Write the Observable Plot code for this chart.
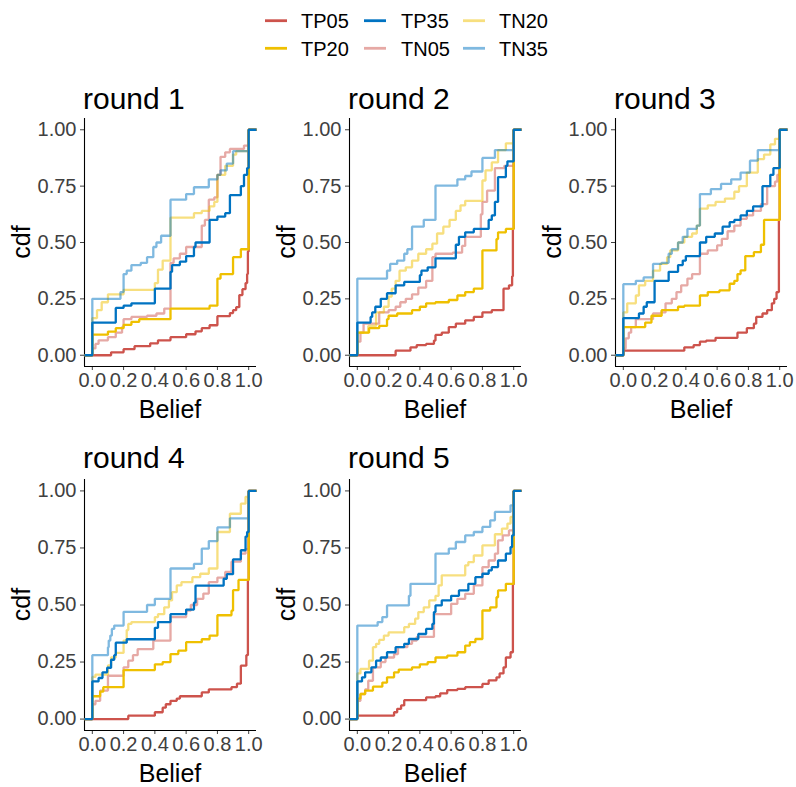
<!DOCTYPE html>
<html><head><meta charset="utf-8">
<script src="https://cdn.jsdelivr.net/npm/d3@7"></script>
<script src="https://cdn.jsdelivr.net/npm/@observablehq/plot@0.6"></script>
<style>
body{margin:0;background:#fff;}
#root{position:relative;width:796px;height:787px;overflow:hidden;font-family:"Liberation Sans",Arial,sans-serif;background:#fff;}
.panel{position:absolute;}
#overlay{position:absolute;left:0;top:0;}
</style></head><body><div id="root"></div>
<script>
// ---- categories / styles ----
const legendOrder = ["TP05","TP20","TP35","TN05","TN20","TN35"];
const drawOrder = ["TN05","TN20","TN35","TP05","TP20","TP35"];
const seriesColor = ["#CD534C","#EFC000","#0073C2","#CD534C","#EFC000","#0073C2"]; // aligned with legendOrder
const seriesAlpha = [1,1,1,0.5,0.5,0.5];
const roundTitles = ["round 1","round 2","round 3","round 4","round 5"];
const xTicks = [0,0.2,0.4,0.6,0.8,1];
const yTicks = [0,0.25,0.5,0.75,1];

// ---- ECDF step points [belief, cdf] ----
// round 1
const r1_TP05 = [[0,0],[0.12,0.013],[0.2,0.027],[0.27,0.04],[0.37,0.053],[0.42,0.066],[0.5,0.08],[0.6,0.093],[0.66,0.106],[0.7,0.12],[0.75,0.133],[0.8,0.173],[0.88,0.187],[0.9,0.2],[0.92,0.213],[0.94,0.267],[0.96,0.293],[0.98,0.32],[0.99,0.36],[0.995,0.46],[1,1]];
const r1_TP20 = [[0,0.091],[0.1,0.105],[0.15,0.12],[0.2,0.135],[0.25,0.148],[0.3,0.16],[0.5,0.207],[0.75,0.22],[0.8,0.34],[0.82,0.36],[0.9,0.435],[0.95,0.47],[1,1]];
const r1_TP35 = [[0,0.145],[0.15,0.21],[0.2,0.22],[0.25,0.23],[0.4,0.295],[0.5,0.37],[0.51,0.4],[0.56,0.415],[0.6,0.44],[0.65,0.48],[0.66,0.5],[0.75,0.6],[0.8,0.615],[0.85,0.63],[0.88,0.71],[0.95,0.75],[0.97,0.8],[0.99,0.83],[1,1]];
const r1_TN05 = [[0,0.03],[0.02,0.05],[0.04,0.066],[0.1,0.08],[0.15,0.1],[0.19,0.125],[0.2,0.16],[0.25,0.17],[0.35,0.175],[0.41,0.185],[0.46,0.207],[0.5,0.41],[0.52,0.43],[0.56,0.45],[0.6,0.48],[0.7,0.575],[0.72,0.6],[0.745,0.69],[0.78,0.7],[0.8,0.8],[0.82,0.88],[0.85,0.9],[0.88,0.915],[0.97,0.93],[1,1]];
const r1_TN20 = [[0,0.165],[0.03,0.2],[0.06,0.235],[0.1,0.27],[0.2,0.29],[0.4,0.32],[0.42,0.38],[0.45,0.42],[0.5,0.61],[0.65,0.63],[0.7,0.64],[0.75,0.66],[0.78,0.68],[0.8,0.8],[0.85,0.84],[0.9,0.89],[0.92,0.905],[1,1]];
const r1_TN35 = [[0,0.25],[0.18,0.28],[0.2,0.36],[0.22,0.375],[0.25,0.4],[0.31,0.41],[0.35,0.435],[0.39,0.48],[0.41,0.5],[0.44,0.53],[0.5,0.69],[0.6,0.715],[0.65,0.745],[0.745,0.78],[0.8,0.8],[0.82,0.82],[0.86,0.85],[0.9,0.905],[1,1]];
// round 2
const r2_TP05 = [[0,0],[0.245,0.02],[0.34,0.035],[0.38,0.045],[0.44,0.05],[0.49,0.065],[0.5,0.09],[0.54,0.1],[0.585,0.125],[0.63,0.14],[0.69,0.155],[0.745,0.17],[0.8,0.19],[0.86,0.2],[0.935,0.295],[0.97,0.31],[0.99,0.35],[0.995,0.56],[1,1]];
const r2_TP20 = [[0,0.1],[0.075,0.12],[0.14,0.13],[0.19,0.16],[0.2,0.175],[0.255,0.185],[0.35,0.2],[0.4,0.215],[0.44,0.23],[0.5,0.235],[0.585,0.245],[0.64,0.265],[0.69,0.28],[0.745,0.295],[0.8,0.465],[0.89,0.515],[0.9,0.545],[0.95,0.56],[1,1]];
const r2_TP35 = [[0,0.145],[0.085,0.17],[0.095,0.19],[0.115,0.215],[0.15,0.25],[0.19,0.275],[0.245,0.31],[0.3,0.325],[0.4,0.355],[0.41,0.375],[0.45,0.39],[0.5,0.43],[0.63,0.49],[0.65,0.525],[0.69,0.545],[0.745,0.56],[0.84,0.6],[0.86,0.62],[0.88,0.68],[0.9,0.79],[0.95,0.84],[0.96,0.86],[1,1]];
const r2_TN05 = [[0,0.06],[0.02,0.1],[0.04,0.14],[0.14,0.19],[0.2,0.2],[0.245,0.215],[0.275,0.235],[0.31,0.25],[0.35,0.27],[0.39,0.3],[0.44,0.33],[0.48,0.435],[0.5,0.45],[0.61,0.455],[0.67,0.485],[0.69,0.525],[0.79,0.625],[0.8,0.68],[0.83,0.73],[0.88,0.83],[0.94,0.84],[1,1]];
const r2_TN20 = [[0,0.1],[0.07,0.13],[0.12,0.19],[0.17,0.215],[0.2,0.26],[0.22,0.295],[0.245,0.33],[0.27,0.375],[0.31,0.39],[0.35,0.42],[0.39,0.45],[0.44,0.47],[0.48,0.495],[0.51,0.54],[0.55,0.57],[0.59,0.6],[0.63,0.64],[0.66,0.665],[0.69,0.685],[0.8,0.775],[0.82,0.82],[0.86,0.855],[0.9,0.91],[0.95,0.94],[1,1]];
const r2_TN35 = [[0,0.34],[0.19,0.375],[0.21,0.405],[0.255,0.42],[0.3,0.45],[0.32,0.47],[0.35,0.57],[0.425,0.6],[0.5,0.752],[0.64,0.78],[0.69,0.795],[0.73,0.815],[0.8,0.875],[0.88,0.91],[1,1]];
// round 3
const r3_TP05 = [[0,0.02],[0.39,0.035],[0.45,0.045],[0.49,0.06],[0.53,0.065],[0.59,0.077],[0.73,0.1],[0.79,0.12],[0.835,0.14],[0.85,0.17],[0.89,0.185],[0.92,0.2],[0.95,0.23],[0.965,0.25],[0.98,0.28],[0.995,0.6],[1,1]];
const r3_TP20 = [[0,0.125],[0.14,0.145],[0.18,0.175],[0.245,0.2],[0.35,0.215],[0.39,0.22],[0.49,0.265],[0.54,0.28],[0.615,0.288],[0.68,0.317],[0.71,0.33],[0.73,0.36],[0.75,0.376],[0.78,0.44],[0.835,0.457],[0.88,0.49],[0.9,0.6],[1,1]];
const r3_TP35 = [[0,0.165],[0.1,0.185],[0.13,0.215],[0.15,0.235],[0.2,0.33],[0.29,0.37],[0.35,0.4],[0.38,0.42],[0.4,0.44],[0.49,0.5],[0.53,0.525],[0.585,0.54],[0.635,0.57],[0.68,0.59],[0.71,0.6],[0.75,0.62],[0.79,0.64],[0.83,0.66],[0.89,0.75],[0.94,0.8],[0.96,0.83],[1,1]];
const r3_TN05 = [[0,0.03],[0.015,0.075],[0.035,0.1],[0.05,0.125],[0.08,0.16],[0.19,0.185],[0.24,0.19],[0.27,0.23],[0.31,0.25],[0.34,0.28],[0.37,0.31],[0.41,0.34],[0.44,0.36],[0.49,0.45],[0.54,0.465],[0.6,0.487],[0.63,0.516],[0.667,0.55],[0.71,0.575],[0.75,0.605],[0.79,0.62],[0.83,0.64],[0.88,0.67],[0.92,0.75],[0.97,0.77],[0.985,0.8],[1,1]];
const r3_TN20 = [[0,0.19],[0.025,0.23],[0.08,0.265],[0.1,0.31],[0.14,0.33],[0.19,0.375],[0.235,0.405],[0.28,0.435],[0.3,0.465],[0.35,0.5],[0.39,0.525],[0.44,0.54],[0.47,0.575],[0.49,0.65],[0.54,0.665],[0.59,0.68],[0.65,0.695],[0.71,0.725],[0.74,0.75],[0.79,0.81],[0.86,0.87],[0.9,0.89],[0.94,0.935],[0.97,0.96],[1,1]];
const r3_TN35 = [[0,0.315],[0.08,0.33],[0.13,0.345],[0.19,0.405],[0.245,0.41],[0.29,0.45],[0.31,0.47],[0.35,0.5],[0.38,0.525],[0.41,0.56],[0.47,0.575],[0.49,0.715],[0.56,0.737],[0.625,0.76],[0.69,0.78],[0.75,0.81],[0.81,0.863],[0.86,0.91],[1,1]];
// round 4
const r4_TP05 = [[0,0],[0.23,0.015],[0.4,0.03],[0.45,0.05],[0.47,0.065],[0.5,0.08],[0.54,0.09],[0.56,0.1],[0.7,0.117],[0.745,0.13],[0.89,0.14],[0.925,0.155],[0.95,0.234],[0.985,0.28],[0.995,0.61],[1,1]];
const r4_TP20 = [[0,0.1],[0.05,0.12],[0.07,0.14],[0.2,0.215],[0.4,0.24],[0.45,0.25],[0.5,0.285],[0.55,0.3],[0.6,0.337],[0.7,0.35],[0.75,0.366],[0.8,0.455],[0.89,0.475],[0.9,0.565],[0.935,0.61],[1,1]];
const r4_TP35 = [[0,0.165],[0.04,0.18],[0.065,0.205],[0.095,0.225],[0.12,0.26],[0.14,0.28],[0.15,0.335],[0.22,0.35],[0.4,0.4],[0.42,0.425],[0.5,0.46],[0.6,0.48],[0.65,0.51],[0.66,0.585],[0.84,0.615],[0.86,0.635],[0.9,0.7],[0.95,0.74],[0.98,0.8],[0.99,0.82],[1,1]];
const r4_TN05 = [[0,0.065],[0.02,0.08],[0.05,0.125],[0.1,0.19],[0.2,0.227],[0.23,0.256],[0.26,0.28],[0.29,0.307],[0.39,0.344],[0.5,0.447],[0.6,0.476],[0.63,0.5],[0.67,0.527],[0.71,0.55],[0.745,0.6],[0.8,0.62],[0.85,0.645],[0.89,0.69],[0.95,0.725],[0.98,0.745],[1,1]];
const r4_TN20 = [[0,0.185],[0.02,0.195],[0.1,0.235],[0.12,0.27],[0.15,0.29],[0.2,0.344],[0.22,0.39],[0.23,0.417],[0.25,0.425],[0.4,0.447],[0.42,0.46],[0.46,0.49],[0.49,0.52],[0.51,0.556],[0.54,0.586],[0.57,0.6],[0.64,0.622],[0.69,0.637],[0.745,0.66],[0.8,0.82],[0.88,0.9],[0.95,0.944],[0.98,0.974],[1,1]];
const r4_TN35 = [[0,0.28],[0.1,0.315],[0.105,0.344],[0.115,0.366],[0.125,0.395],[0.14,0.41],[0.2,0.47],[0.35,0.5],[0.4,0.527],[0.5,0.66],[0.65,0.68],[0.7,0.747],[0.745,0.78],[0.8,0.84],[0.88,0.88],[1,1]];
// round 5
const r5_TP05 = [[0,0.015],[0.235,0.03],[0.255,0.045],[0.28,0.06],[0.3,0.083],[0.44,0.095],[0.5,0.1],[0.53,0.113],[0.575,0.127],[0.64,0.132],[0.69,0.14],[0.8,0.154],[0.84,0.17],[0.89,0.183],[0.91,0.2],[0.935,0.227],[0.95,0.27],[0.98,0.293],[0.995,0.59],[1,1]];
const r5_TP20 = [[0,0.09],[0.02,0.11],[0.05,0.125],[0.1,0.142],[0.16,0.16],[0.19,0.183],[0.235,0.205],[0.265,0.217],[0.35,0.227],[0.4,0.24],[0.45,0.25],[0.5,0.27],[0.575,0.278],[0.64,0.293],[0.69,0.322],[0.72,0.337],[0.755,0.351],[0.8,0.476],[0.85,0.49],[0.89,0.534],[0.9,0.564],[0.95,0.593],[1,1]];
const r5_TP35 = [[0,0.165],[0.03,0.183],[0.05,0.205],[0.09,0.227],[0.12,0.256],[0.15,0.27],[0.19,0.293],[0.245,0.315],[0.3,0.33],[0.33,0.351],[0.39,0.373],[0.44,0.395],[0.48,0.417],[0.49,0.469],[0.5,0.498],[0.54,0.52],[0.6,0.54],[0.65,0.564],[0.71,0.593],[0.755,0.622],[0.8,0.637],[0.84,0.652],[0.86,0.666],[0.9,0.695],[0.95,0.725],[0.98,0.754],[0.99,0.805],[1,1]];
const r5_TN05 = [[0,0.08],[0.02,0.11],[0.05,0.13],[0.07,0.168],[0.1,0.227],[0.15,0.25],[0.18,0.27],[0.235,0.285],[0.26,0.315],[0.32,0.33],[0.35,0.344],[0.38,0.36],[0.49,0.46],[0.6,0.505],[0.64,0.527],[0.69,0.549],[0.745,0.586],[0.8,0.666],[0.84,0.695],[0.88,0.725],[0.9,0.783],[0.93,0.805],[0.97,0.827],[1,1]];
const r5_TN20 = [[0,0.2],[0.02,0.22],[0.075,0.256],[0.1,0.315],[0.12,0.33],[0.14,0.347],[0.17,0.366],[0.2,0.38],[0.3,0.403],[0.33,0.417],[0.37,0.44],[0.39,0.469],[0.425,0.49],[0.46,0.52],[0.5,0.54],[0.52,0.586],[0.54,0.63],[0.69,0.674],[0.71,0.688],[0.745,0.717],[0.8,0.761],[0.88,0.81],[0.925,0.835],[0.96,0.857],[0.98,0.886],[1,1]];
const r5_TN35 = [[0,0.41],[0.13,0.425],[0.16,0.447],[0.19,0.498],[0.33,0.54],[0.34,0.593],[0.5,0.725],[0.585,0.747],[0.63,0.776],[0.69,0.805],[0.745,0.82],[0.8,0.842],[0.85,0.871],[0.88,0.908],[0.98,0.937],[1,1]];

const rounds = [
  {TP05:r1_TP05,TP20:r1_TP20,TP35:r1_TP35,TN05:r1_TN05,TN20:r1_TN20,TN35:r1_TN35},
  {TP05:r2_TP05,TP20:r2_TP20,TP35:r2_TP35,TN05:r2_TN05,TN20:r2_TN20,TN35:r2_TN35},
  {TP05:r3_TP05,TP20:r3_TP20,TP35:r3_TP35,TN05:r3_TN05,TN20:r3_TN20,TN35:r3_TN35},
  {TP05:r4_TP05,TP20:r4_TP20,TP35:r4_TP35,TN05:r4_TN05,TN20:r4_TN20,TN35:r4_TN35},
  {TP05:r5_TP05,TP20:r5_TP20,TP35:r5_TP35,TN05:r5_TN05,TN20:r5_TN20,TN35:r5_TN35}
];

// ---- layout ----
const panelLeft = [0, 265, 531, 0, 265];
const panelTop = [100, 100, 100, 461, 461];
const plotH = [248, 248, 248, 251, 251];
const mL = 84, mR = 14, mT = 18, mB = 64, W = 270;
const FONT = '"Liberation Sans", Arial, sans-serif';
const root = document.getElementById("root");

rounds.forEach((rd, i) => {
  const marks = [
    Plot.ruleX([-0.05], {stroke: "#000", strokeWidth: 1.1}),
    Plot.ruleY([-0.05], {stroke: "#000", strokeWidth: 1.1})
  ];
  drawOrder.forEach(name => {
    const k = legendOrder.indexOf(name);
    const pts = [[-0.05, 0], ...rd[name], [1.05, 1]];
    marks.push(Plot.line(pts, {
      x: d => d[0], y: d => d[1], curve: "step-after",
      stroke: seriesColor[k], strokeOpacity: seriesAlpha[k], strokeWidth: 2.3,
      strokeLinejoin: "miter", strokeLinecap: "butt"
    }));
  });
  const svg = Plot.plot({
    width: W, height: mT + plotH[i] + mB,
    marginLeft: mL, marginRight: mR, marginTop: mT, marginBottom: mB,
    x: {domain: [-0.05, 1.05], ticks: xTicks, tickFormat: d3.format(".1f"), label: null, tickSize: 4, tickPadding: 2},
    y: {domain: [-0.05, 1.05], ticks: yTicks, tickFormat: d3.format(".2f"), label: null, tickSize: 4, tickPadding: 4},
    style: {fontFamily: FONT, fontSize: "20px", color: "#404040", background: "transparent", overflow: "visible"},
    marks
  });
  svg.classList.add("panel");
  svg.style.left = panelLeft[i] + "px";
  svg.style.top = panelTop[i] + "px";
  svg.style.position = "absolute";
  root.appendChild(svg);
});

// ---- overlay: titles, axis titles, legend ----
const ov = d3.select(root).append("svg").attr("id", "overlay")
  .attr("width", 796).attr("height", 787).style("font-family", FONT);
rounds.forEach((rd, i) => {
  const left = panelLeft[i] + mL, top = panelTop[i] + mT, bottom = top + plotH[i];
  const cx = left + (W - mL - mR) / 2, cy = (top + bottom) / 2;
  ov.append("text").attr("x", left - 1).attr("y", top - (i < 3 ? 9 : 11))
    .attr("font-size", 30).attr("fill", "#000").text(roundTitles[i]);
  ov.append("text").attr("x", cx).attr("y", bottom + 52).attr("text-anchor", "middle")
    .attr("font-size", 25).attr("fill", "#000").text("Belief");
  ov.append("text").attr("transform", `translate(${left - 54},${cy}) rotate(-90)`)
    .attr("text-anchor", "middle").attr("font-size", 25).attr("fill", "#000").text("cdf");
});
const legCols = [[265, 301], [364, 401], [463, 499]];
const legRows = [20.7, 48.3];
const legendLayout = [["TP05","TP20"],["TP35","TN05"],["TN20","TN35"]];
legendLayout.forEach((col, c) => col.forEach((name, r) => {
  const k = legendOrder.indexOf(name);
  ov.append("line").attr("x1", legCols[c][0]).attr("x2", legCols[c][0] + 22)
    .attr("y1", legRows[r]).attr("y2", legRows[r])
    .attr("stroke", seriesColor[k]).attr("stroke-opacity", seriesAlpha[k]).attr("stroke-width", 2.8);
  ov.append("text").attr("x", legCols[c][1]).attr("y", legRows[r] + 7.2)
    .attr("font-size", 20).attr("fill", "#000").text(name);
}));
</script></body></html>
